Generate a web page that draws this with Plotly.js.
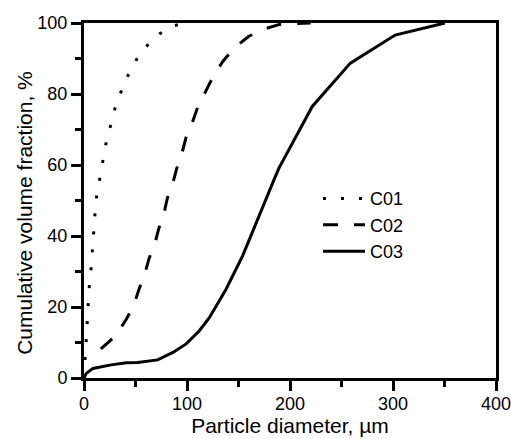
<!DOCTYPE html>
<html>
<head>
<meta charset="utf-8">
<script src="https://cdn.plot.ly/plotly-3.0.1.min.js"></script>
<style>html,body{margin:0;padding:0;background:#fff;}#chart{width:511px;height:439px;}</style>
</head>
<body>
<div id="chart"></div>
<script>
// Particle diameter (µm) and cumulative volume fraction (%)
var c01X = [0, 0.6, 1.2, 1.9, 2.6, 3.9, 5.1, 6.8, 8.0, 9.0, 10.6, 12.2, 15.1, 17.7, 21.3, 25.8, 30.3, 36.7, 44.4, 54.1, 69.2, 86.3, 100];
var c01Y = [0, 3, 6, 10.3, 15.4, 20.5, 25.6, 30.6, 36, 41, 46, 51, 55.9, 60.9, 66, 71.1, 76.2, 81.2, 86.3, 91.3, 96.2, 99.2, 100];

var c02X = [16.4, 30.9, 41.2, 48.3, 53.4, 58.9, 63.1, 68.6, 72.5, 77.6, 80.8, 86.3, 90.2, 95.0, 99.2, 105.0, 110.4, 117.6, 125.0, 134.6, 145.9, 159.7, 175.0, 190.0, 220.0];
var c02Y = [8.2, 11.9, 16.6, 20.5, 25.0, 29.2, 33.6, 37.6, 42.0, 46.3, 50.5, 55.0, 59.2, 63.2, 67.9, 71.8, 76.3, 80.3, 84.7, 89.1, 93.0, 96.2, 98.3, 99.6, 100];

var c03X = [0, 2.2, 8.7, 26.4, 41.2, 52.0, 71.5, 86.3, 99.2, 112.0, 121.7, 137.9, 154.0, 166.9, 184.5, 189.4, 221.6, 258.6, 302.1, 350.4];
var c03Y = [0, 1.3, 2.7, 3.7, 4.3, 4.4, 5.1, 7.2, 9.6, 13.3, 17.0, 25.0, 34.4, 43.7, 55.9, 59.2, 76.5, 88.7, 96.6, 100];

var seriesNames = ['C01', 'C02', 'C03'];
var xTickVals = [0, 100, 200, 300, 400];
var yTickVals = [0, 20, 40, 60, 80, 100];
var xTitle = 'Particle diameter, µm';
var yTitle = 'Cumulative volume fraction, %';

var FONT = 'Liberation Sans, Arial, Helvetica, sans-serif';

var traces = [
  {x: c01X, y: c01Y, name: seriesNames[0], mode: 'lines', line: {color: '#000', width: 3, dash: '3px,15px'}},
  {x: c02X, y: c02Y, name: seriesNames[1], mode: 'lines', line: {color: '#000', width: 3, dash: '15px,16px'}},
  {x: c03X, y: c03Y, name: seriesNames[2], mode: 'lines', line: {color: '#000', width: 3}}
];

var layout = {
  width: 511, height: 439,
  margin: {l: 84, r: 15, t: 23, b: 61, pad: 0},
  paper_bgcolor: '#fff', plot_bgcolor: '#fff',
  font: {family: FONT, color: '#000', size: 18},
  showlegend: true,
  legend: {x: 0.568, y: 0.557, xanchor: 'left', yanchor: 'top', itemwidth: 42, bgcolor: 'rgba(0,0,0,0)', font: {family: FONT, size: 18, color: '#000'}, tracegroupgap: 0},
  xaxis: {
    range: [0, 400], tickvals: xTickVals, ticktext: xTickVals.map(String),
    showgrid: false, zeroline: false, showline: true, linecolor: '#000', linewidth: 3, mirror: true,
    ticks: 'outside', ticklen: 10, tickwidth: 3, tickcolor: '#000', ticklabeloverflow: 'allow', ticklabelstandoff: -3,
    minor: {dtick: 50, ticks: 'outside', ticklen: 6, tickwidth: 3, tickcolor: '#000'},
    tickfont: {family: FONT, size: 18, color: '#000'},
    title: {text: xTitle, font: {family: FONT, size: 21, color: '#000'}, standoff: 4}
  },
  yaxis: {
    range: [0, 100], tickvals: yTickVals, ticktext: yTickVals.map(String),
    showgrid: false, zeroline: false, showline: true, linecolor: '#000', linewidth: 3, mirror: true,
    ticks: 'outside', ticklen: 10, tickwidth: 3, tickcolor: '#000',
    minor: {dtick: 10, ticks: 'outside', ticklen: 6, tickwidth: 3, tickcolor: '#000'},
    tickfont: {family: FONT, size: 18, color: '#000'}
  },
  annotations: [{
    text: yTitle, textangle: -90, xref: 'paper', yref: 'paper', x: -0.1434, y: 0.465,
    xanchor: 'center', yanchor: 'middle', showarrow: false,
    font: {family: FONT, size: 21, color: '#000'}
  }]
};

Plotly.newPlot('chart', traces, layout, {displayModeBar: false, staticPlot: true});
</script>
</body>
</html>
